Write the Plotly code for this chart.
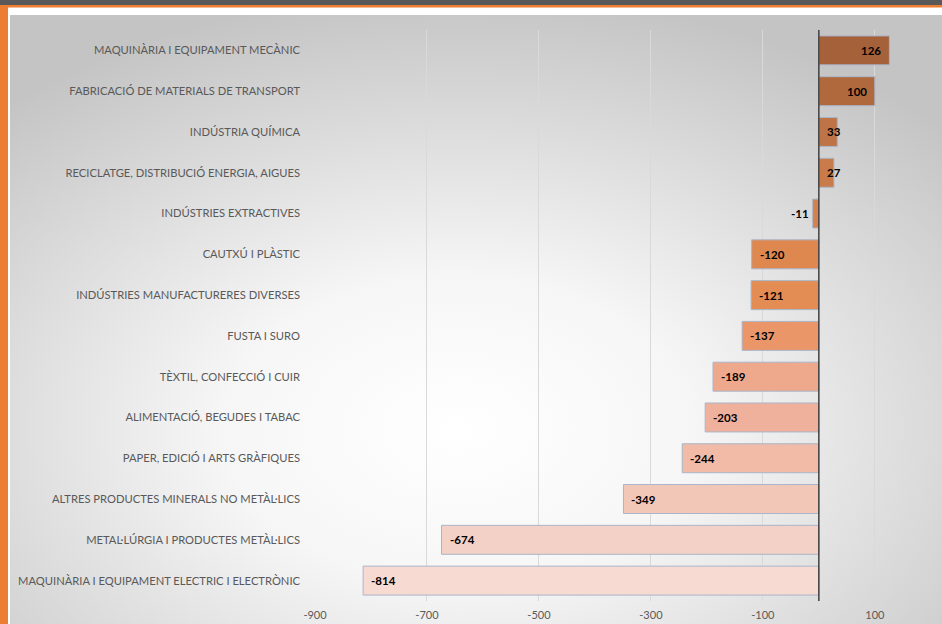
import plotly.graph_objects as go
import base64

categories = [
    "MAQUINÀRIA I EQUIPAMENT MECÀNIC",
    "FABRICACIÓ DE MATERIALS DE TRANSPORT",
    "INDÚSTRIA QUÍMICA",
    "RECICLATGE, DISTRIBUCIÓ ENERGIA, AIGUES",
    "INDÚSTRIES EXTRACTIVES",
    "CAUTXÚ I PLÀSTIC",
    "INDÚSTRIES MANUFACTURERES DIVERSES",
    "FUSTA I SURO",
    "TÈXTIL, CONFECCIÓ I CUIR",
    "ALIMENTACIÓ, BEGUDES I TABAC",
    "PAPER, EDICIÓ I ARTS GRÀFIQUES",
    "ALTRES PRODUCTES MINERALS NO METÀL·LICS",
    "METAL·LÚRGIA I PRODUCTES METÀL·LICS",
    "MAQUINÀRIA I EQUIPAMENT ELECTRIC I ELECTRÒNIC",
]
values = [126, 100, 33, 27, -11, -120, -121, -137, -189, -203, -244, -349, -674, -814]
bar_colors = [
    "#A4613A", "#B0693D", "#BE7447", "#C97B4B", "#D4814C", "#DE884F", "#E38C53",
    "#EB9669", "#EEA98D", "#F0B19C", "#F1BBA8", "#F3C7B8", "#F4D1C6", "#F7DAD1",
]
tick_vals = [-900, -700, -500, -300, -100, 100]

W, H = 942, 624
L, R, T, B = 315, 0, 30, 23
PW, PH = W - L - R, H - T - B

def px2x(px):
    return (px - L) / PW

def py2y(py):
    return (H - B - py) / PH

svg = f'''<svg xmlns="http://www.w3.org/2000/svg" width="932" height="609" preserveAspectRatio="none">
<defs><radialGradient id="g" cx="48%" cy="68%" r="72%" fx="48%" fy="68%">
<stop offset="0%" stop-color="#FFFFFF"/><stop offset="35%" stop-color="#F6F6F6"/>
<stop offset="100%" stop-color="#C4C4C4"/></radialGradient></defs>
<rect width="932" height="609" fill="url(#g)"/></svg>'''
src = "data:image/svg+xml;base64," + base64.b64encode(svg.encode()).decode()

fig = go.Figure()
fig.add_trace(go.Bar(
    x=values, y=categories, orientation="h",
    marker=dict(color=bar_colors, line=dict(color="#A9B5C9", width=1)),
    hoverinfo="x+y",
))

annotations = []
for c, v in zip(categories, values):
    if v >= 50:
        a = dict(x=v, xanchor="right", xshift=-6)
    elif v > 0:
        a = dict(x=0, xanchor="left", xshift=6)
    elif v > -50:
        a = dict(x=v, xanchor="right", xshift=-2)
    else:
        a = dict(x=v, xanchor="left", xshift=6)
    a.update(y=c, text=f"<b>{v}</b>", showarrow=False, xref="x", yref="y",
             font=dict(family="Lato, Open Sans, sans-serif", size=11.5, color="#000000"))
    annotations.append(a)

shapes = [
    dict(type="rect", xref="paper", yref="paper", x0=px2x(0), x1=px2x(W), y0=py2y(0), y1=py2y(5),
         fillcolor="#595959", line=dict(width=0), layer="above"),
    dict(type="rect", xref="paper", yref="paper", x0=px2x(0), x1=px2x(W), y0=py2y(5), y1=py2y(7.5),
         fillcolor="#ED7D31", line=dict(width=0), layer="above"),
    dict(type="rect", xref="paper", yref="paper", x0=px2x(0), x1=px2x(8), y0=py2y(5), y1=py2y(H),
         fillcolor="#ED7D31", line=dict(width=0), layer="above"),
    dict(type="line", xref="x", yref="paper", x0=0, x1=0, y0=0, y1=1,
         line=dict(color="#404040", width=1.5), layer="above"),
]

fig.update_layout(
    width=W, height=H,
    margin=dict(l=L, r=R, t=T, b=B),
    paper_bgcolor="#FFFFFF",
    plot_bgcolor="rgba(0,0,0,0)",
    bargap=0.29,
    showlegend=False,
    font=dict(family="Lato, Open Sans, sans-serif", size=11, color="#595959"),
    xaxis=dict(range=[-900, 220], tickvals=tick_vals, ticktext=[str(t) for t in tick_vals],
               showgrid=True, gridcolor="#D9D9D9", gridwidth=1, zeroline=False,
               showline=False, ticks="", ticklabelstandoff=6,
               tickfont=dict(size=11, color="#595959"), fixedrange=True),
    yaxis=dict(autorange="reversed", showgrid=False, zeroline=False, showline=False,
               ticks="", ticklabelstandoff=14, tickfont=dict(size=11.2, color="#595959")),
    annotations=annotations,
    shapes=shapes,
    images=[dict(source=src, xref="paper", yref="paper", x=px2x(10), y=py2y(15),
                 sizex=px2x(W) - px2x(10), sizey=py2y(15) - py2y(H), sizing="stretch",
                 xanchor="left", yanchor="top", layer="below")],
)

fig.write_html("out.html", config={"displayModeBar": False},
               post_script="document.body.style.margin='0';document.body.style.overflow='hidden';")
